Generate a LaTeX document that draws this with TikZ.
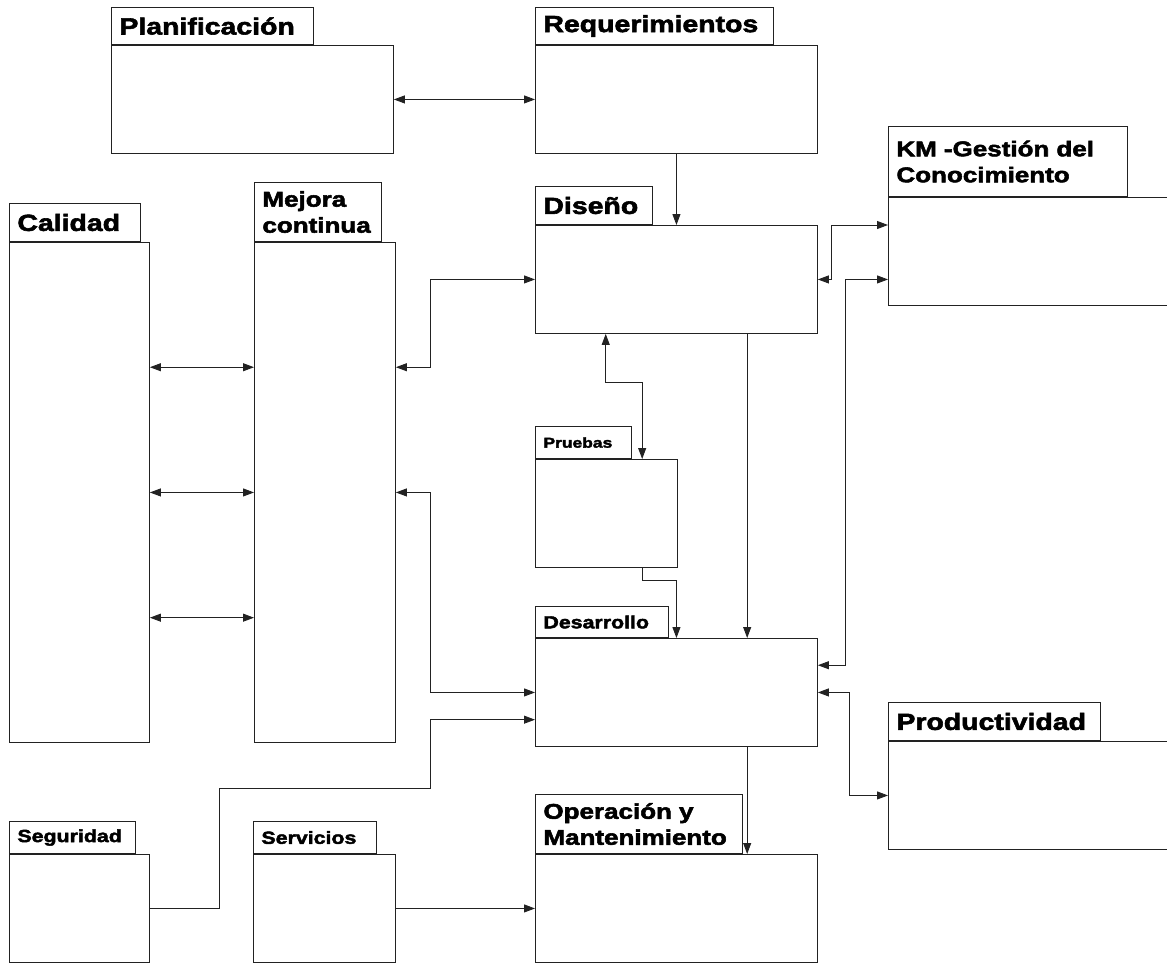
\documentclass[tikz,border=0pt]{standalone}
\usepackage{fontspec}
\usepackage{tikz}
\usetikzlibrary{arrows.meta,positioning,calc}
\newfontfamily\pkgfont{Liberation Sans}[FakeStretch=1.22,FakeBold=2.5]
\definecolor{line}{HTML}{222222}

\begin{document}
\begin{tikzpicture}[x=1pt,y=-1pt,>={Triangle[length=11pt,width=8pt]},line width=0.9pt]
    \tikzset{
      body/.style={draw=line,rectangle,anchor=north west,inner sep=0pt},
      tab/.style={draw=line,rectangle,anchor=south west,align=left,inner xsep=8pt,inner ysep=0pt},
      big/.style={font=\pkgfont\bfseries\fontsize{23.3}{27}\selectfont},
      mid/.style={font=\pkgfont\bfseries\fontsize{21.3}{26}\selectfont},
      small/.style={font=\pkgfont\bfseries\fontsize{17.5}{20}\selectfont},
      tiny/.style={font=\pkgfont\bfseries\fontsize{14.3}{16}\selectfont},
      link/.style={draw=line}
    }
    \clip (0,0) rectangle (1167,964);
    \fill[white] (0,0) rectangle (1167,964);
    % package bodies
    \node[body,minimum width=282,minimum height=108] (plan) at (111,45) {};
    \node[body,minimum width=282,minimum height=108] (req) at (535,45) {};
    \node[body,minimum width=300,minimum height=108] (km) at (888,197) {};
    \node[body,minimum width=282,minimum height=108] (dis) at (535,225) {};
    \node[body,minimum width=140,minimum height=500] (cal) at (9,242) {};
    \node[body,minimum width=141,minimum height=500] (mej) at (254,242) {};
    \node[body,minimum width=142,minimum height=108] (pru) at (535,459) {};
    \node[body,minimum width=282,minimum height=108] (des) at (535,638) {};
    \node[body,minimum width=300,minimum height=108] (pro) at (888,741) {};
    \node[body,minimum width=140,minimum height=108] (seg) at (9,854) {};
    \node[body,minimum width=142,minimum height=108] (ser) at (253,854) {};
    \node[body,minimum width=282,minimum height=108] (ope) at (535,854) {};
    % package tabs
    \node[tab,big,text width=186,minimum height=37] (plantab) at (plan.north west) {Planificación};
    \node[tab,big,text width=222,minimum height=37] (reqtab) at (req.north west) {Requerimientos};
    \node[tab,mid,text width=223,minimum height=70] (kmtab) at (km.north west) {KM -Gestión del\\Conocimiento};
    \node[tab,big,text width=101,minimum height=38] (distab) at (dis.north west) {Diseño};
    \node[tab,big,text width=115,minimum height=38] (caltab) at (cal.north west) {Calidad};
    \node[tab,mid,text width=111,minimum height=59] (mejtab) at (mej.north west) {Mejora\\continua};
    \node[tab,tiny,text width=80,minimum height=32] (prutab) at (pru.north west) {Pruebas};
    \node[tab,small,text width=117,minimum height=31] (destab) at (des.north west) {Desarrollo};
    \node[tab,big,text width=196,minimum height=38] (protab) at (pro.north west) {Productividad};
    \node[tab,small,text width=110,minimum height=32] (segtab) at (seg.north west) {Seguridad};
    \node[tab,small,text width=107,minimum height=32] (sertab) at (ser.north west) {Servicios};
    \node[tab,mid,text width=191,minimum height=59] (opetab) at (ope.north west) {Operación y\\Mantenimiento};
    % connectors
    \draw[link,<->] (plan.east) -- (req.west);
    \draw[link,->] (req.south) -- (dis.north);
    \draw[link,<->] (dis.east) -- ++(14,0) |- (km.west |- dis.north);
    \draw[link,<->] ($(des.north east)!0.25!(des.south east)$) -- ++(28,0) |- (km.west |- dis.east);
    \draw[link,<->] (des.east) -- ++(32,0) |- (pro.west);
    \foreach \p in {0.25,0.5,0.75}
      \draw[link,<->] ($(cal.north east)!\p!(cal.south east)$) -- ($(mej.north west)!\p!(mej.south west)$);
    \draw[link,<->] ($(mej.north east)!0.25!(mej.south east)$) -- ++(35,0) |- (dis.west);
    \draw[link,<->] (mej.east) -- ++(35,0) |- (des.west);
    \draw[link,->] (seg.east) -- ++(70,0) -- ++(0,-120) -- ++(211,0) |- ($(des.north west)!0.75!(des.south west)$);
    \draw[link,->] (ser.east) -- (ope.west);
    \draw[link,->] ($(dis.south west)!0.75!(dis.south east)$) -- ($(des.north west)!0.75!(des.north east)$);
    \draw[link,->] ($(des.south west)!0.75!(des.south east)$) -- ($(ope.north west)!0.75!(ope.north east)$);
    \draw[link,<->] ($(dis.south west)!0.25!(dis.south east)$) -- ++(0,49) -| ($(pru.north west)!0.75!(pru.north east)$);
    \draw[link,->] ($(pru.south west)!0.75!(pru.south east)$) -- ++(0,13) -| (des.north);
\end{tikzpicture}
\end{document}
